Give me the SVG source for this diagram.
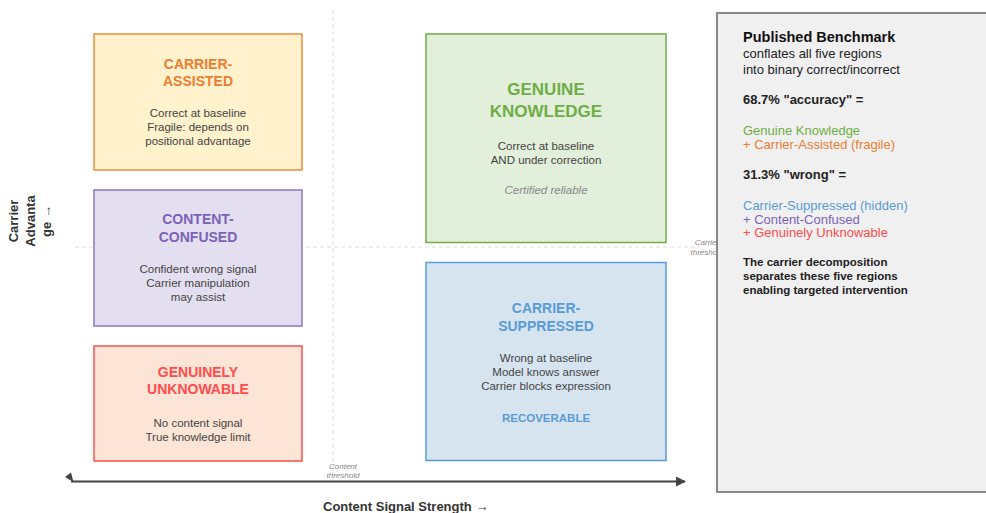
<svg xmlns="http://www.w3.org/2000/svg" width="986" height="513" viewBox="0 0 986 513">
<style>
text { font-family: "Liberation Sans", Arial, sans-serif; }
.title { font-weight: bold; font-size: 14px; text-anchor: middle; }
.big { font-size: 17px; }
.small { font-size: 11.5px; }
.body { font-size: 11.5px; fill: #444; text-anchor: middle; }
.note { font-style: italic; fill: #888; }
.thr { font-size: 8px; font-style: italic; fill: #888; text-anchor: middle; }
.guide { stroke: #ddd; stroke-width: 1; stroke-dasharray: 4 3; fill: none; }
.axis { font-size: 13px; font-weight: bold; fill: #333; }
.ptxt { font-size: 13px; fill: #222; }
.pb { font-size: 13px; font-weight: bold; fill: #222; }
.pn { font-size: 11.5px; font-weight: bold; fill: #222; }
.c-or { fill: #ed7d31; }
.c-gr { fill: #70ad47; }
.c-bl { fill: #5b9bd5; }
.c-pu { fill: #7b62b8; }
.c-re { fill: #ff4d4d; }
</style>
<defs>
<marker id="arr" markerWidth="10" markerHeight="10" refX="9" refY="5" orient="auto" markerUnits="userSpaceOnUse">
<path d="M0,0 L10,5 L0,10 Z" fill="#444"/>
</marker>
</defs>
<rect x="0" y="0" width="986" height="513" fill="#ffffff"/>

<g id="guides">
<line class="guide" x1="333" y1="10" x2="333" y2="480"/>
<line class="guide" x1="75" y1="247" x2="700" y2="247"/>
<text class="thr" x="343" y="469">Content</text>
<text class="thr" x="343" y="478">threshold</text>
<text class="thr" x="707" y="245">Carrier</text>
<text class="thr" x="707" y="255">threshold</text>
</g>

<g id="connectors">
<line x1="71" y1="481.5" x2="685" y2="481.5" stroke="#444" stroke-width="2" marker-end="url(#arr)"/>
<polygon points="65,477 71,472.5 73.5,482" fill="#444"/>
</g>

<g id="carrier-assisted">
<rect x="94" y="34" width="208" height="136" fill="#fff2cc" stroke="#f08a3c" stroke-width="1.5"/>
<text class="title c-or" x="198" y="68.5">CARRIER-</text>
<text class="title c-or" x="198" y="86">ASSISTED</text>
<text class="body" x="198" y="117">Correct at baseline</text>
<text class="body" x="198" y="131">Fragile: depends on</text>
<text class="body" x="198" y="145">positional advantage</text>
</g>

<g id="content-confused">
<rect x="94" y="190" width="208" height="136" fill="#e4dff0" stroke="#8a78c0" stroke-width="1.5"/>
<text class="title c-pu" x="198" y="224">CONTENT-</text>
<text class="title c-pu" x="198" y="242">CONFUSED</text>
<text class="body" x="198" y="273">Confident wrong signal</text>
<text class="body" x="198" y="287">Carrier manipulation</text>
<text class="body" x="198" y="301">may assist</text>
</g>

<g id="genuinely-unknowable">
<rect x="94" y="346" width="208" height="115" fill="#fce4d6" stroke="#ff5050" stroke-width="1.5"/>
<text class="title c-re" x="198" y="377">GENUINELY</text>
<text class="title c-re" x="198" y="394">UNKNOWABLE</text>
<text class="body" x="198" y="427">No content signal</text>
<text class="body" x="198" y="441">True knowledge limit</text>
</g>

<g id="genuine-knowledge">
<rect x="426" y="34" width="240" height="208.5" fill="#e2efda" stroke="#70ad47" stroke-width="1.5"/>
<text class="title big c-gr" x="546" y="95">GENUINE</text>
<text class="title big c-gr" x="546" y="117">KNOWLEDGE</text>
<text class="body" x="546" y="150">Correct at baseline</text>
<text class="body" x="546" y="164">AND under correction</text>
<text class="body note" x="546" y="194">Certified reliable</text>
</g>

<g id="carrier-suppressed">
<rect x="426" y="262.5" width="240" height="198" fill="#d6e4f0" stroke="#5b9bd5" stroke-width="1.5"/>
<text class="title c-bl" x="546" y="313">CARRIER-</text>
<text class="title c-bl" x="546" y="331">SUPPRESSED</text>
<text class="body" x="546" y="362">Wrong at baseline</text>
<text class="body" x="546" y="376">Model knows answer</text>
<text class="body" x="546" y="390">Carrier blocks expression</text>
<text class="title small c-bl" x="546" y="421.5">RECOVERABLE</text>
</g>

<g id="axis-labels">
<text class="axis" x="323" y="511">Content Signal Strength →</text>
<g transform="translate(0 221) rotate(-90)">
<text class="axis" x="0" y="18" text-anchor="middle">Carrier</text>
<text class="axis" x="0" y="35" text-anchor="middle">Advanta</text>
<text class="axis" x="0" y="51" text-anchor="middle">ge →</text>
</g>
</g>

<g id="benchmark-panel">
<rect x="717" y="13" width="280" height="479" fill="#f0f0f0" stroke="#888" stroke-width="2"/>
<text x="743" y="42" font-size="14.5" font-weight="bold" fill="#111">Published Benchmark</text>
<text class="ptxt" x="743" y="58">conflates all five regions</text>
<text class="ptxt" x="743" y="73.5">into binary correct/incorrect</text>
<text class="pb" x="743" y="104">68.7% "accuracy" =</text>
<text class="ptxt c-gr" x="743" y="134.5">Genuine Knowledge</text>
<text class="ptxt c-or" x="743" y="149">+ Carrier-Assisted (fragile)</text>
<text class="pb" x="743" y="178.5">31.3% "wrong" =</text>
<text class="ptxt c-bl" x="743" y="209.5">Carrier-Suppressed (hidden)</text>
<text class="ptxt c-pu" x="743" y="223.5">+ Content-Confused</text>
<text class="ptxt c-re" x="743" y="237">+ Genuinely Unknowable</text>
<text class="pn" x="743" y="266">The carrier decomposition</text>
<text class="pn" x="743" y="280">separates these five regions</text>
<text class="pn" x="743" y="294">enabling targeted intervention</text>
</g>
</svg>
